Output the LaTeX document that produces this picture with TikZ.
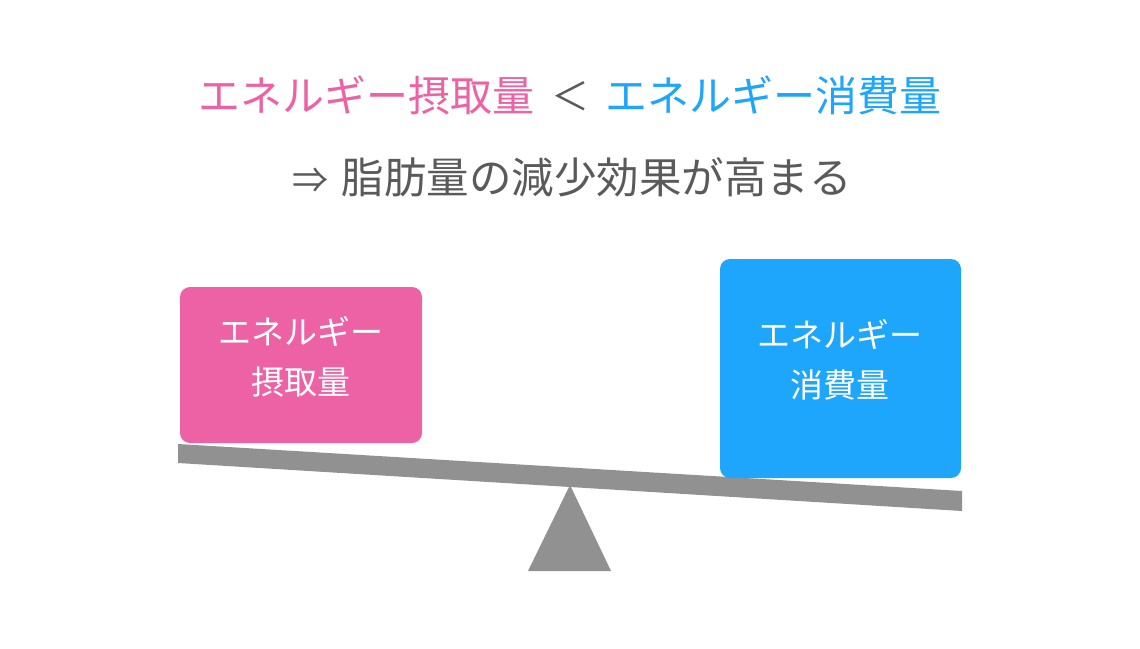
\documentclass[tikz,border=0pt]{standalone}
\usepackage{fontspec}
\setmainfont{Noto Sans CJK JP}
\definecolor{pinkc}{HTML}{EC62A4}
\definecolor{bluec}{HTML}{1EA5FC}
\definecolor{grayt}{HTML}{5A5A5A}
\definecolor{beamc}{HTML}{919191}
\begin{document}
\begin{tikzpicture}[x=1pt,y=-1pt,
  titletext/.style={inner sep=0pt, font=\fontsize{42}{48}\selectfont},
  weightbox/.style={rounded corners=10pt, inner sep=0pt, draw=none},
  boxtext/.style={inner sep=0pt, text=white, align=center, font=\fontsize{33}{50}\selectfont}]
\useasboundingbox (0,0) rectangle (1140,648);
\fill[white] (0,0) rectangle (1140,648);
% title
\node[titletext, text=pinkc, anchor=east] (t1) at (535,95) {エネルギー摂取量};
\node[inner sep=0pt, text=grayt, font=\fontsize{38}{40}\selectfont] (lt) at (570,96) {＜};
\node[titletext, text=bluec, anchor=west] (t2) at (605,95) {エネルギー消費量};
\node[inner sep=0pt, text=grayt, font=\fontsize{42.5}{48}\selectfont] (t3) at (572,177) {{\fontsize{36}{42}\selectfont ⇒}\hspace{4pt} 脂肪量の減少効果が高まる};
% fulcrum and beam
\coordinate (apex) at (570,485);
\coordinate (bl) at (528,571);
\coordinate (br) at (611,571);
\fill[beamc] (apex) -- (br) -- (bl) -- cycle;
\coordinate (b1) at (178,444);
\coordinate (b2) at (962,491);
\coordinate (b3) at (962,511);
\coordinate (b4) at (178,463);
\fill[beamc] (b1) -- (b2) -- (b3) -- (b4) -- cycle;
% boxes
\fill[pinkc, rounded corners=10pt] (180,287) rectangle (422,443);
\node[boxtext] (intake) at (301,357) {エネルギー\\摂取量};
\fill[bluec, rounded corners=10pt] (720,259) rectangle (961,478);
\node[boxtext] (burn) at (840,360) {エネルギー\\消費量};
\end{tikzpicture}
\end{document}
